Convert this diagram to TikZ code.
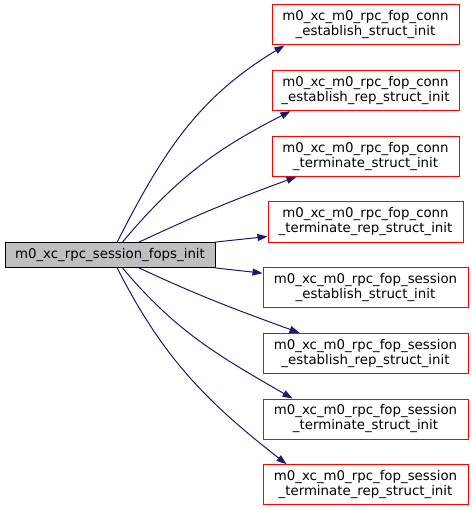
\documentclass[tikz,border=0pt]{standalone}
\usepackage{fontspec}
\setmainfont{DejaVu Sans}
\usetikzlibrary{arrows.meta, positioning, calc}
\definecolor{edgeblue}{HTML}{191970}
\definecolor{callergray}{HTML}{BFBFBF}
\definecolor{calleered}{HTML}{FF0000}

\begin{document}
\begin{tikzpicture}[
      x=0.75pt, y=0.75pt,
      callee/.style={draw=calleered, line width=0.75pt, minimum height=30pt,
        inner sep=0pt, align=center, font=\fontsize{10}{11.25}\selectfont},
      caller/.style={draw=black, fill=callergray, line width=0.75pt,
        minimum width=157.5pt, minimum height=18.75pt, inner sep=0pt,
        font=\fontsize{10}{11.25}\selectfont},
      callarrow/.style={draw=edgeblue, line width=0.75pt,
        -{Triangle[length=7.5pt, width=5.25pt]}}
    ]
      \useasboundingbox (0,0) rectangle (473,-509);

      \node[caller] (fops) at (110,-255) {m0\_xc\_rpc\_session\_fops\_init};

      \node[callee, minimum width=140.25pt] (connest) at (365.5,-25)
        {m0\_xc\_m0\_rpc\_fop\_conn\\\_establish\_struct\_init};
      \node[callee, minimum width=140.25pt, below=18.5pt of connest] (connestrep)
        {m0\_xc\_m0\_rpc\_fop\_conn\\\_establish\_rep\_struct\_init};
      \node[callee, minimum width=140.25pt, below=18.5pt of connestrep] (connterm)
        {m0\_xc\_m0\_rpc\_fop\_conn\\\_terminate\_struct\_init};
      \node[callee, minimum width=146.25pt, below=18.5pt of connterm] (conntermrep)
        {m0\_xc\_m0\_rpc\_fop\_conn\\\_terminate\_rep\_struct\_init};
      \node[callee, minimum width=153.75pt, below=18.5pt of conntermrep] (sessest)
        {m0\_xc\_m0\_rpc\_fop\_session\\\_establish\_struct\_init};
      \node[callee, minimum width=153.75pt, below=18.5pt of sessest] (sessestrep)
        {m0\_xc\_m0\_rpc\_fop\_session\\\_establish\_rep\_struct\_init};
      \node[callee, minimum width=153.75pt, below=18.5pt of sessestrep] (sessterm)
        {m0\_xc\_m0\_rpc\_fop\_session\\\_terminate\_struct\_init};
      \node[callee, minimum width=153.75pt, below=18.5pt of sessterm] (sesstermrep)
        {m0\_xc\_m0\_rpc\_fop\_session\\\_terminate\_rep\_struct\_init};

      % calls above the caller
      \draw[callarrow] (fops.61) to[out=63, in=211] ($(connest.south west)+(13,0)$);
      \draw[callarrow] (fops.46) to[out=50, in=207] ($(connestrep.south west)+(19,0)$);
      \draw[callarrow] (fops.24) to[out=25, in=200] ($(connterm.south west)+(25,0)$);
      \draw[callarrow] (fops.7) -- ($(conntermrep.south west)+(0,6)$);
      % calls below the caller
      \draw[callarrow] (fops.-7) -- ($(sessest.north west)+(0,-6)$);
      \draw[callarrow] (fops.-24) to[out=-25, in=160] ($(sessestrep.north west)+(37,0)$);
      \draw[callarrow] (fops.-46) to[out=-50, in=150] ($(sessterm.north west)+(30,0)$);
      \draw[callarrow] (fops.-61) to[out=-63, in=142] ($(sesstermrep.north west)+(24,0)$);
    \end{tikzpicture}
\end{document}
